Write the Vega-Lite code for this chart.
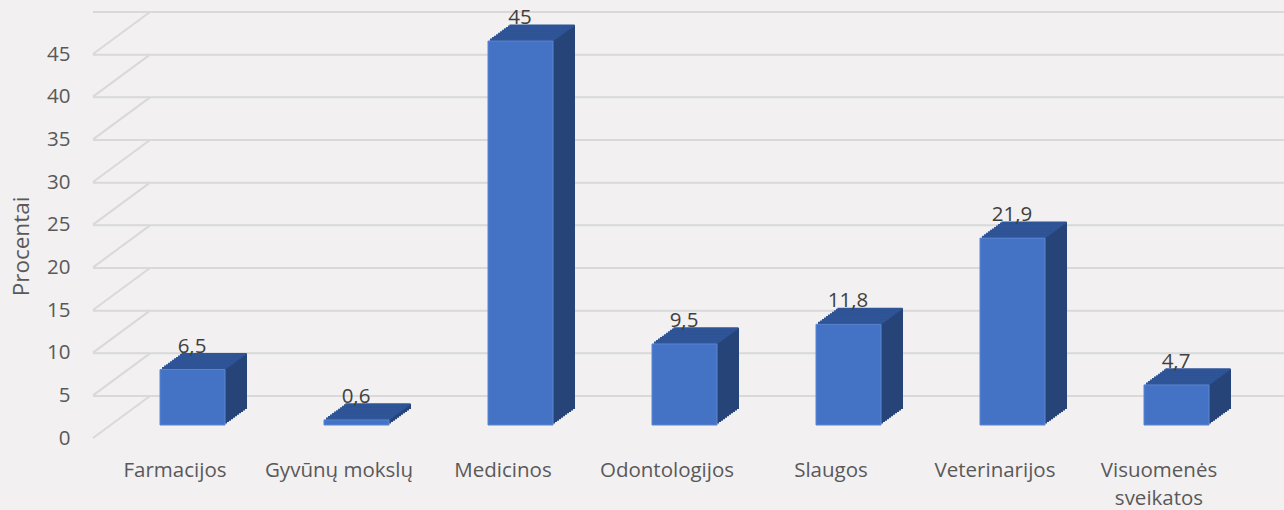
{
  "$schema": "https://vega.github.io/schema/vega-lite/v6.json",
  "width": 1148,
  "height": 384,
  "autosize": {"type": "none"},
  "padding": {"left": 93, "top": 54, "right": 43, "bottom": 72},
  "background": "#F2F0F1",
  "config": {
    "view": {"stroke": null},
    "font": "Open Sans",
    "axis": {"labelFont": "Open Sans", "titleFont": "Open Sans", "labelColor": "#595959", "titleColor": "#595959", "labelFontSize": 20.5, "titleFontSize": 22.5, "titleFontWeight": "normal", "grid": false, "domain": false, "ticks": false, "tickSize": 0},
    "axisY": {"values": [0, 5, 10, 15, 20, 25, 30, 35, 40, 45], "labelPadding": 23, "titlePadding": 13},
    "axisX": {"labelAngle": 0, "labelPadding": 22, "labelLineHeight": 28, "labelBaseline": "top"}
  },
  "datasets": {
    "bars": [
      {"kategorija": "Farmacijos", "procentai": 6.5, "label": "6,5"},
      {"kategorija": "Gyvūnų mokslų", "procentai": 0.6, "label": "0,6"},
      {"kategorija": "Medicinos", "procentai": 45, "label": "45"},
      {"kategorija": "Odontologijos", "procentai": 9.5, "label": "9,5"},
      {"kategorija": "Slaugos", "procentai": 11.8, "label": "11,8"},
      {"kategorija": "Veterinarijos", "procentai": 21.9, "label": "21,9"},
      {"kategorija": "Visuomenės sveikatos", "procentai": 4.7, "label": "4,7"}
    ],
    "grid": [
      {"v": 0}, {"v": 5}, {"v": 10}, {"v": 15}, {"v": 20},
      {"v": 25}, {"v": 30}, {"v": 35}, {"v": 40}, {"v": 45}
    ]
  },
  "layer": [
    {
      "data": {"name": "grid"},
      "mark": {"type": "rule", "stroke": "#D9D9D9", "strokeWidth": 2, "xOffset": 57, "x2Offset": 57, "yOffset": -42},
      "encoding": {
        "y": {"field": "v", "type": "quantitative", "title": "Procentai",
          "scale": {"domain": [0, 45], "nice": false, "zero": true}}
      }
    },
    {
      "data": {"name": "grid"},
      "mark": {"type": "point", "shape": "M0,0L1,-0.7368", "size": 12996, "filled": false, "stroke": "#D9D9D9", "strokeWidth": 2, "opacity": 1},
      "encoding": {
        "x": {"datum": "Farmacijos", "type": "nominal", "bandPosition": 0, "title": null},
        "y": {"field": "v", "type": "quantitative", "title": "Procentai"}
      }
    },
    {
      "data": {"name": "bars"},
      "encoding": {
        "x": {"field": "kategorija", "type": "nominal", "sort": null, "title": null,
          "scale": {"domain": ["Farmacijos", "Gyvūnų mokslų", "Medicinos", "Odontologijos", "Slaugos", "Veterinarijos", "Visuomenės sveikatos"], "paddingInner": 0, "paddingOuter": 0},
          "axis": {"labelExpr": "datum.label == 'Visuomenės sveikatos' ? ['Visuomenės', 'sveikatos'] : datum.label"}},
        "y": {"field": "procentai", "type": "quantitative", "title": "Procentai"}
      },
      "layer": [
        {"mark": {"type": "bar", "width": 65, "color": "#264478", "xOffset": 39.5, "yOffset": -29}},
        {"mark": {"type": "bar", "width": 65, "color": "#264478", "xOffset": 37.5, "yOffset": -27.55}},
        {"mark": {"type": "bar", "width": 65, "color": "#264478", "xOffset": 35.5, "yOffset": -26.09}},
        {"mark": {"type": "bar", "width": 65, "color": "#264478", "xOffset": 33.5, "yOffset": -24.64}},
        {"mark": {"type": "bar", "width": 65, "color": "#264478", "xOffset": 31.5, "yOffset": -23.18}},
        {"mark": {"type": "bar", "width": 65, "color": "#264478", "xOffset": 29.5, "yOffset": -21.73}},
        {"mark": {"type": "bar", "width": 65, "color": "#264478", "xOffset": 27.5, "yOffset": -20.27}},
        {"mark": {"type": "bar", "width": 65, "color": "#264478", "xOffset": 25.5, "yOffset": -18.82}},
        {"mark": {"type": "bar", "width": 65, "color": "#264478", "xOffset": 23.5, "yOffset": -17.36}},
        {"mark": {"type": "bar", "width": 65, "color": "#264478", "xOffset": 21.5, "yOffset": -15.91}},
        {"mark": {"type": "bar", "width": 65, "color": "#264478", "xOffset": 19.5, "yOffset": -14.45}},
        {"mark": {"type": "tick", "size": 65, "thickness": 2, "color": "#2F5597", "opacity": 1, "xOffset": 19.5, "yOffset": -14.45}},
        {"mark": {"type": "tick", "size": 65, "thickness": 2, "color": "#2F5597", "opacity": 1, "xOffset": 21.5, "yOffset": -15.91}},
        {"mark": {"type": "tick", "size": 65, "thickness": 2, "color": "#2F5597", "opacity": 1, "xOffset": 23.5, "yOffset": -17.36}},
        {"mark": {"type": "tick", "size": 65, "thickness": 2, "color": "#2F5597", "opacity": 1, "xOffset": 25.5, "yOffset": -18.82}},
        {"mark": {"type": "tick", "size": 65, "thickness": 2, "color": "#2F5597", "opacity": 1, "xOffset": 27.5, "yOffset": -20.27}},
        {"mark": {"type": "tick", "size": 65, "thickness": 2, "color": "#2F5597", "opacity": 1, "xOffset": 29.5, "yOffset": -21.73}},
        {"mark": {"type": "tick", "size": 65, "thickness": 2, "color": "#2F5597", "opacity": 1, "xOffset": 31.5, "yOffset": -23.18}},
        {"mark": {"type": "tick", "size": 65, "thickness": 2, "color": "#2F5597", "opacity": 1, "xOffset": 33.5, "yOffset": -24.64}},
        {"mark": {"type": "tick", "size": 65, "thickness": 2, "color": "#2F5597", "opacity": 1, "xOffset": 35.5, "yOffset": -26.09}},
        {"mark": {"type": "tick", "size": 65, "thickness": 2, "color": "#2F5597", "opacity": 1, "xOffset": 37.5, "yOffset": -27.55}},
        {"mark": {"type": "tick", "size": 65, "thickness": 2, "color": "#2F5597", "opacity": 1, "xOffset": 39, "yOffset": -28.6}},
        {"mark": {"type": "bar", "width": 65, "color": "#4472C4", "stroke": "#5B86D3", "strokeWidth": 1, "xOffset": 17.5, "yOffset": -13}},
        {
          "mark": {"type": "text", "fontSize": 20.5, "color": "#404040", "baseline": "alphabetic", "align": "center", "xOffset": 17, "yOffset": -30},
          "encoding": {"text": {"field": "label", "type": "nominal"}}
        }
      ]
    }
  ]
}
